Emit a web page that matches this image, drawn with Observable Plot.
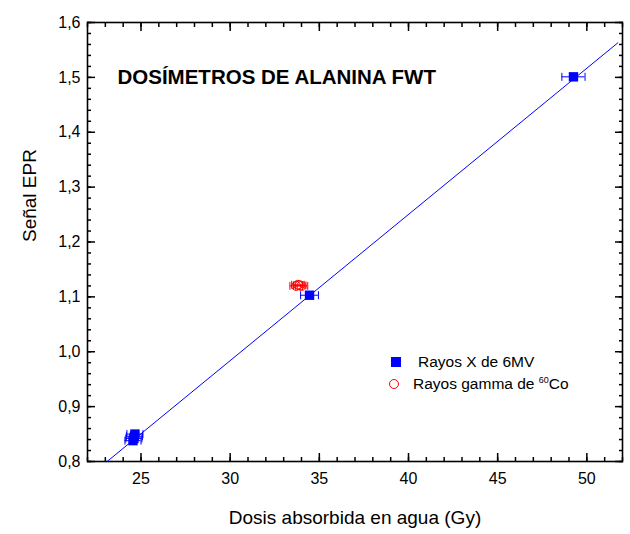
<!DOCTYPE html>
<html><head><meta charset="utf-8">
<script src="https://cdn.jsdelivr.net/npm/d3@7"></script>
<script src="https://cdn.jsdelivr.net/npm/@observablehq/plot@0.6"></script>
<style>
body{margin:0;background:#fff;}
#wrap{position:relative;width:630px;height:534px;font-family:Arial,"Liberation Sans",sans-serif;}
#legend{position:absolute;left:388px;top:351px;font-size:15.5px;color:#000;line-height:22px;}
#legend .row{position:relative;height:22px;white-space:nowrap;}
#legend .sq{position:absolute;left:3px;top:6px;width:10px;height:10px;background:#0000ff;}
#legend .ci{position:absolute;left:1px;top:6px;width:8px;height:8px;border:1.2px solid #ff0000;border-radius:50%;}
#legend sup{font-size:9px;vertical-align:6px;line-height:0;}
</style></head><body><div id="wrap"></div>
<script>
// Rayos X de 6MV
const xrayDose = [24.55, 24.6, 24.63, 24.66, 34.45, 49.25];
const xraySignal = [0.838, 0.842, 0.846, 0.85, 1.103, 1.501];
const xrayDoseErr = [0.45, 0.45, 0.45, 0.45, 0.5, 0.65];
// Rayos gamma de 60Co
const gammaDose = [33.7, 33.8, 33.9, 34.0];
const gammaSignal = [1.12, 1.122, 1.121, 1.12];
const gammaDoseErr = [0.35, 0.35, 0.35, 0.35];
// Linear fit line endpoints
const fitDose = [23.1, 51.74];
const fitSignal = [0.8, 1.563];
// ticks
const xMajorTicks = [25, 30, 35, 40, 45, 50];
const xMinorTicks = d3.range(22, 53, 1);
const yMajorTicks = [0.8, 0.9, 1.0, 1.1, 1.2, 1.3, 1.4, 1.5, 1.6];
const yMinorTicks = d3.range(0, 41).map(i => +(0.8 + i * 0.02).toFixed(2));

const xray = xrayDose.map((x, i) => ({x, y: xraySignal[i], e: xrayDoseErr[i]}));
const gamma = gammaDose.map((x, i) => ({x, y: gammaSignal[i], e: gammaDoseErr[i]}));
const fit = fitDose.map((x, i) => ({x, y: fitSignal[i]}));

const capSymbol = {draw(ctx, size) { const h = Math.sqrt(size) / 2; ctx.moveTo(0, -h); ctx.lineTo(0, h); }};
const caps = arr => arr.flatMap(d => [{x: d.x - d.e, y: d.y}, {x: d.x + d.e, y: d.y}]);
const fmt = d => d.toFixed(1).replace(".", ",");
const none = () => "";

const chart = Plot.plot({
  width: 630, height: 534,
  marginLeft: 87, marginRight: 8, marginTop: 22, marginBottom: 73,
  style: {fontFamily: "Arial, 'Liberation Sans', sans-serif", fontSize: "16px", background: "white", color: "black"},
  x: {domain: [22, 52], axis: null},
  y: {domain: [0.8, 1.6], axis: null},
  marks: [
    Plot.axisX(xMinorTicks, {anchor: "bottom", tickSize: -4, tickFormat: none, label: null, strokeWidth: 1.5}),
    Plot.axisX(xMinorTicks, {anchor: "top", tickSize: -4, tickFormat: none, label: null, strokeWidth: 1.5}),
    Plot.axisX(xMajorTicks, {anchor: "bottom", tickSize: -8, tickPadding: 19, tickFormat: d => String(d), label: null, fontSize: 16, strokeWidth: 1.5}),
    Plot.axisX(xMajorTicks, {anchor: "top", tickSize: -8, tickFormat: none, label: null, strokeWidth: 1.5}),
    Plot.axisY(yMinorTicks, {anchor: "left", tickSize: -4, tickFormat: none, label: null, strokeWidth: 1.5}),
    Plot.axisY(yMinorTicks, {anchor: "right", tickSize: -4, tickFormat: none, label: null, strokeWidth: 1.5}),
    Plot.axisY(yMajorTicks, {anchor: "left", tickSize: -8, tickPadding: 15, tickFormat: fmt, label: null, fontSize: 16, strokeWidth: 1.5}),
    Plot.axisY(yMajorTicks, {anchor: "right", tickSize: -8, tickFormat: none, label: null, strokeWidth: 1.5}),
    Plot.frame({stroke: "black", strokeWidth: 1.6}),
    Plot.line(fit, {x: "x", y: "y", stroke: "#0000ff", strokeWidth: 1}),
    Plot.ruleY(gamma, {y: "y", x1: d => d.x - d.e, x2: d => d.x + d.e, stroke: "#ff0000", strokeWidth: 1}),
    Plot.dot(caps(gamma), {x: "x", y: "y", symbol: capSymbol, r: 4.5, fill: "none", stroke: "#ff0000", strokeWidth: 1}),
    Plot.dot(gamma, {x: "x", y: "y", r: 4.5, fill: "none", stroke: "#ff0000", strokeWidth: 1}),
    Plot.ruleY(xray, {y: "y", x1: d => d.x - d.e, x2: d => d.x + d.e, stroke: "#0000ff", strokeWidth: 1}),
    Plot.dot(caps(xray), {x: "x", y: "y", symbol: capSymbol, r: 4.5, fill: "none", stroke: "#0000ff", strokeWidth: 1}),
    Plot.dot(xray, {x: "x", y: "y", symbol: "square", r: 5.3, fill: "#0000ff", stroke: "none"}),
    Plot.text(["DOSÍMETROS DE ALANINA FWT"], {frameAnchor: "top-left", dx: 30, dy: 47, textAnchor: "start", fontWeight: "bold", fontSize: 20.5}),
    Plot.text(["Dosis absorbida en agua (Gy)"], {frameAnchor: "bottom", dy: 62, fontSize: 19}),
    Plot.text(["Señal EPR"], {frameAnchor: "left", dx: -58, rotate: -90, fontSize: 19})
  ]
});
const wrap = document.getElementById("wrap");
wrap.appendChild(chart);
const legend = document.createElement("div");
legend.id = "legend";
legend.innerHTML = '<div class="row"><span class="sq"></span><span style="margin-left:30px">Rayos X de 6MV</span></div>' +
  '<div class="row"><span class="ci"></span><span style="margin-left:25px">Rayos gamma de <sup>60</sup>Co</span></div>';
wrap.appendChild(legend);
</script></body></html>
